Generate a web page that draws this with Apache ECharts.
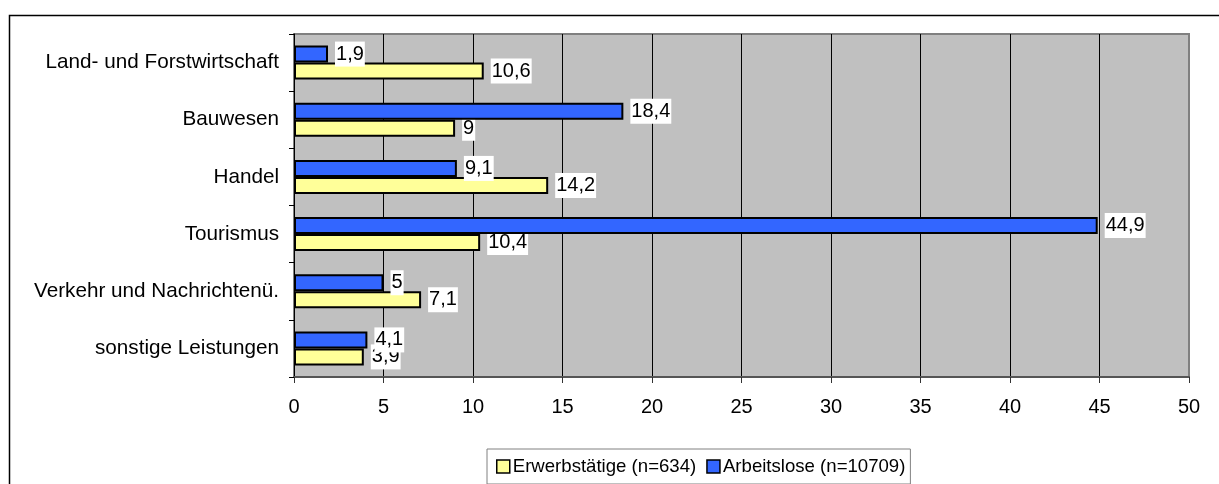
<!DOCTYPE html>
<html>
<head>
<meta charset="utf-8">
<script src="https://cdn.jsdelivr.net/npm/echarts@6/dist/echarts.min.js"></script>
<style>
html,body{margin:0;padding:0;background:#fff;}
#chart{width:1219px;height:484px;}
</style>
</head>
<body>
<div id="chart"></div>
<script>
const categories = ['Land- und Forstwirtschaft','Bauwesen','Handel','Tourismus','Verkehr und Nachrichtenü.','sonstige Leistungen'];
const erwerbstaetige = [10.6, 9, 14.2, 10.4, 7.1, 3.9];
const arbeitslose = [1.9, 18.4, 9.1, 44.9, 5, 4.1];
const xTicks = [0, 5, 10, 15, 20, 25, 30, 35, 40, 45, 50];
const nameErw = 'Erwerbstätige (n=634)';
const nameArb = 'Arbeitslose (n=10709)';

const FONT = 'Liberation Sans, Arial, sans-serif';
const chart = echarts.init(document.getElementById('chart'));
const labelCfg = {
  show: true,
  position: 'right',
  distance: 7,
  color: '#000',
  fontSize: 20,
  fontFamily: FONT,
  backgroundColor: '#fff',
  padding: [3, 1, 2, 1],
  formatter: p => String(p.value).replace('.', ',')
};
chart.setOption({
  animation: false,
  graphic: [{
    type: 'rect',
    left: 7, top: 13,
    shape: {x: 0, y: 0, width: 1300, height: 600},
    style: {fill: 'none', stroke: '#000', lineWidth: 1.5},
    silent: true, z: -10
  }],
  grid: {
    left: 294, right: 30, top: 34, bottom: 107,
    show: true, backgroundColor: '#C0C0C0',
    borderColor: '#808080', borderWidth: 2
  },
  legend: {
    data: [nameErw, nameArb],
    left: 487, top: 449,
    orient: 'horizontal',
    icon: 'rect',
    itemWidth: 13, itemHeight: 13,
    itemGap: 10,
    padding: [8, 5, 8, 9],
    borderColor: '#808080', borderWidth: 1,
    backgroundColor: '#fff',
    textStyle: {fontSize: 18.6, fontFamily: FONT, color: '#000', padding: [0, 0, 0, -2]},
    itemStyle: {borderColor: '#000', borderWidth: 1.5}
  },
  xAxis: {
    type: 'value',
    min: 0, max: 50, interval: 5,
    axisLine: {show: true, lineStyle: {color: '#555', width: 2}},
    axisTick: {show: true, length: 6, lineStyle: {color: '#333'}},
    axisLabel: {
      fontSize: 20, fontFamily: FONT, color: '#000', margin: 20,
      formatter: v => xTicks.includes(v) ? String(v) : ''
    },
    splitLine: {show: true, showMinLine: false, showMaxLine: false, lineStyle: {color: '#000', width: 1}}
  },
  yAxis: {
    type: 'category',
    data: categories,
    inverse: true,
    axisLine: {show: true, lineStyle: {color: '#000', width: 1}},
    axisTick: {show: true, length: 5, lineStyle: {color: '#000'}},
    axisLabel: {fontSize: 20.7, fontFamily: FONT, color: '#000', margin: 15},
    splitLine: {show: false}
  },
  series: [
    {
      name: nameArb, type: 'bar', data: arbeitslose,
      barWidth: 17, barGap: '0%', z: 3,
      itemStyle: {color: '#3366FF', borderColor: '#000', borderWidth: 2},
      label: labelCfg
    },
    {
      name: nameErw, type: 'bar', data: erwerbstaetige,
      barWidth: 17, barGap: '0%', z: 2,
      itemStyle: {color: '#FFFF99', borderColor: '#000', borderWidth: 2},
      label: labelCfg
    }
  ]
});
</script>
</body>
</html>
